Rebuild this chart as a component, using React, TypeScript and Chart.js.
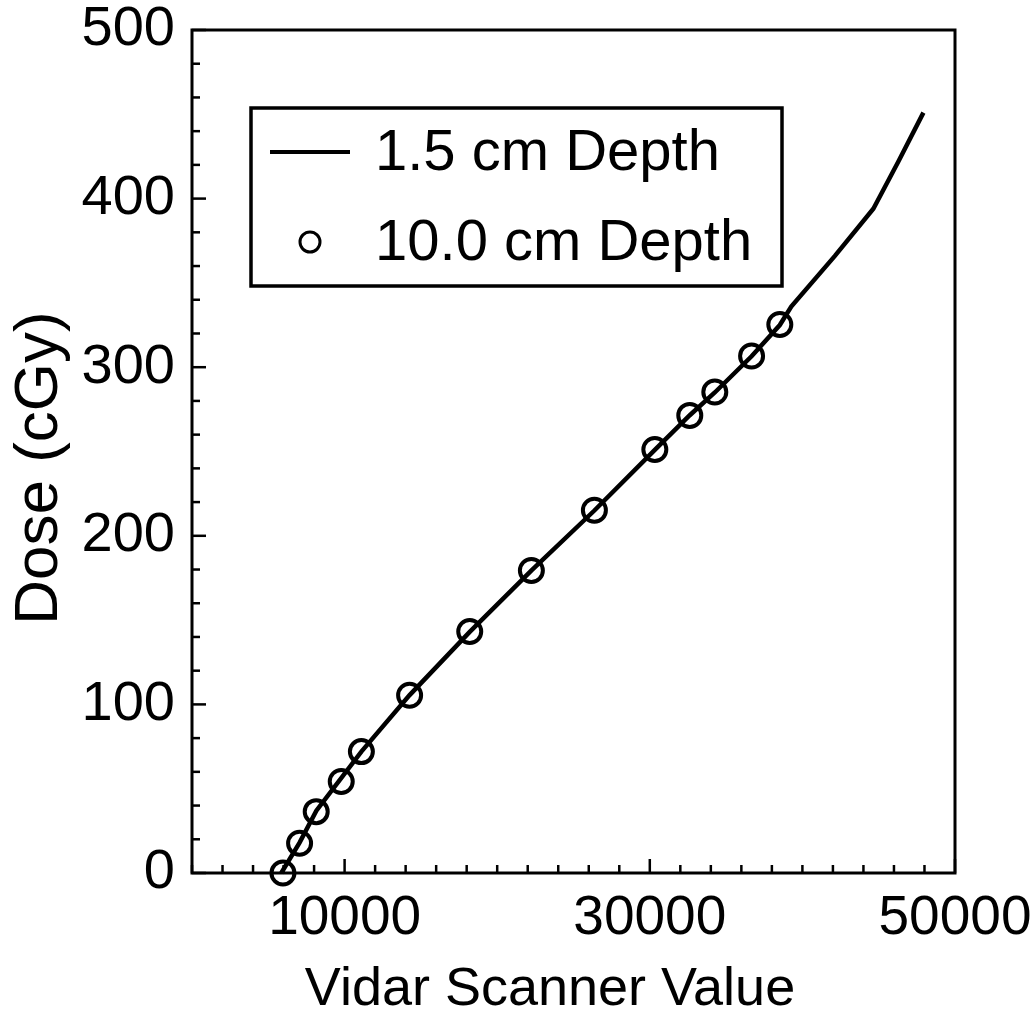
import React, { useEffect, useRef } from 'react';
import { Chart, registerables } from 'chart.js';

Chart.register(...registerables);

// ---- data ----
const shallowLabel = '1.5 cm Depth';
const shallowX = [5850, 7050, 8150, 11100, 14260, 18200, 22250, 26370, 30330, 32620, 34260, 36670, 38520, 39270, 42130, 44650, 46290, 47930];
const shallowY = [0, 18, 37, 72, 105.5, 143, 179.5, 215, 251, 271.5, 285, 306.5, 325, 336, 366, 394, 422, 451];

const deepLabel = '10.0 cm Depth';
const deepX = [5960, 7050, 8140, 9780, 11100, 14260, 18200, 22240, 26370, 30330, 32620, 34260, 36670, 38520];
const deepY = [0, 17.6, 36.4, 54.3, 72.0, 105.4, 143.2, 179.4, 215.2, 251.2, 271.4, 285.3, 306.6, 325.3];

const xTickValues = [10000, 30000, 50000];
const yTickValues = [0, 100, 200, 300, 400, 500];
const xMinorStep = 2000;
const yMinorStep = 20;
const xTitle = 'Vidar Scanner Value';
const yTitle = 'Dose (cGy)';

const FONT = '"Liberation Sans", Arial, Helvetica, sans-serif';

const zeroPadding = (s: any) => {
  s.paddingTop = 0;
  s.paddingBottom = 0;
  s.paddingLeft = 0;
  s.paddingRight = 0;
};

const framePlugin = {
  id: 'frameTicks',
  afterDatasetsDraw(chart: any) {
    const { ctx, chartArea: a, scales } = chart;
    const xs = scales.x;
    const ys = scales.y;
    ctx.save();
    ctx.strokeStyle = '#000';
    ctx.lineCap = 'butt';
    ctx.lineWidth = 2.5;
    for (let v = xs.min; v <= xs.max + 1e-6; v += xMinorStep) {
      const px = xs.getPixelForValue(v);
      const len = xTickValues.includes(v) ? 14 : 8;
      ctx.beginPath();
      ctx.moveTo(px, a.bottom);
      ctx.lineTo(px, a.bottom - len);
      ctx.stroke();
    }
    for (let v = ys.min; v <= ys.max + 1e-6; v += yMinorStep) {
      const py = ys.getPixelForValue(v);
      const len = yTickValues.includes(v) ? 14 : 8;
      ctx.beginPath();
      ctx.moveTo(a.left, py);
      ctx.lineTo(a.left + len, py);
      ctx.stroke();
    }
    ctx.lineWidth = 3;
    ctx.strokeRect(a.left, a.top, a.right - a.left, a.bottom - a.top);
    ctx.restore();
  },
};

const titlesPlugin = {
  id: 'axisTitles',
  afterDraw(chart: any) {
    const { ctx } = chart;
    ctx.save();
    ctx.fillStyle = '#000';
    ctx.textAlign = 'center';
    ctx.textBaseline = 'alphabetic';
    ctx.font = `54px ${FONT}`;
    ctx.fillText(xTitle, 550, 1005);
    ctx.translate(57, 468);
    ctx.rotate(-Math.PI / 2);
    ctx.font = `62px ${FONT}`;
    ctx.fillText(yTitle, 0, 0);
    ctx.restore();
  },
};

const legendPlugin = {
  id: 'boxLegend',
  afterDraw(chart: any) {
    const { ctx } = chart;
    const ds = chart.data.datasets;
    const bx = 251, by = 108, bw = 531, bh = 178;
    ctx.save();
    ctx.fillStyle = '#fff';
    ctx.fillRect(bx, by, bw, bh);
    ctx.strokeStyle = '#000';
    ctx.lineWidth = 3.5;
    ctx.strokeRect(bx, by, bw, bh);
    const r1 = 152, r2 = 242;
    ctx.lineWidth = 4;
    ctx.beginPath();
    ctx.moveTo(270, r1);
    ctx.lineTo(350, r1);
    ctx.stroke();
    ctx.lineWidth = 3;
    ctx.beginPath();
    ctx.arc(310, r2, 10, 0, Math.PI * 2);
    ctx.stroke();
    ctx.fillStyle = '#000';
    ctx.font = `58px ${FONT}`;
    ctx.textBaseline = 'middle';
    ctx.textAlign = 'left';
    ctx.fillText(ds[0].label, 375, r1 + 2);
    ctx.fillText(ds[1].label, 375, r2 + 2);
    ctx.restore();
  },
};

export default function App() {
  const ref = useRef<HTMLCanvasElement | null>(null);
  useEffect(() => {
    document.body.style.margin = '0';
    document.body.style.background = '#fff';
    if (!ref.current) return;
    const chart = new Chart(ref.current, {
      type: 'scatter',
      data: {
        datasets: [
          {
            label: shallowLabel,
            data: shallowX.map((x, i) => ({ x, y: shallowY[i] })),
            showLine: true,
            borderColor: '#000',
            borderWidth: 4.5,
            pointRadius: 0,
            tension: 0,
            clip: false as any,
          },
          {
            label: deepLabel,
            data: deepX.map((x, i) => ({ x, y: deepY[i] })),
            showLine: false,
            pointRadius: 11.5,
            pointBorderWidth: 4,
            pointBorderColor: '#000',
            pointBackgroundColor: 'rgba(0,0,0,0)',
            pointStyle: 'circle',
            clip: false as any,
          },
        ],
      },
      options: {
        responsive: false,
        animation: false,
        devicePixelRatio: 1,
        layout: { padding: { top: 30, right: 76, left: 0, bottom: 0 } },
        plugins: {
          legend: { display: false },
          tooltip: { enabled: false },
        },
        scales: {
          x: {
            type: 'linear',
            min: 0,
            max: 50000,
            afterBuildTicks: (s: any) => {
              s.ticks = xTickValues.map((v) => ({ value: v }));
            },
            afterFit: (s: any) => {
              s.height = 146;
              zeroPadding(s);
            },
            grid: { display: false, drawTicks: false },
            border: { display: false },
            ticks: {
              color: '#000',
              font: { family: FONT, size: 55, lineHeight: 1 },
              padding: 18,
              maxRotation: 0,
              autoSkip: false,
              callback: (v: any) => String(v),
            },
            title: { display: false, text: xTitle },
          },
          y: {
            type: 'linear',
            min: 0,
            max: 500,
            afterBuildTicks: (s: any) => {
              s.ticks = yTickValues.map((v) => ({ value: v }));
            },
            afterFit: (s: any) => {
              s.width = 192;
              zeroPadding(s);
            },
            grid: { display: false, drawTicks: false },
            border: { display: false },
            ticks: {
              color: '#000',
              font: { family: FONT, size: 56, lineHeight: 1 },
              padding: 17,
              autoSkip: false,
              callback: (v: any) => String(v),
            },
            title: { display: false, text: yTitle },
          },
        },
      },
      plugins: [framePlugin, titlesPlugin, legendPlugin],
    });
    return () => chart.destroy();
  }, []);
  return (
    <canvas ref={ref} width={1031} height={1019} style={{ display: 'block', width: 1031, height: 1019 }} />
  );
}
